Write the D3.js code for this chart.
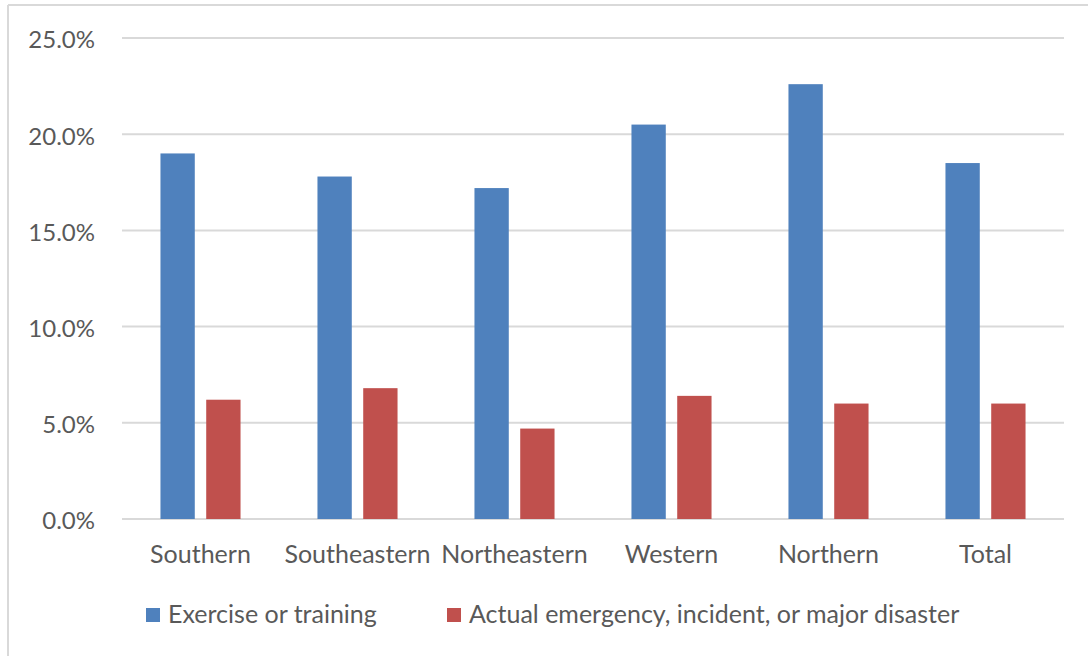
<!DOCTYPE html>
<html>
<head>
<meta charset="utf-8">
<script src="https://cdn.jsdelivr.net/npm/d3@7"></script>
<style>
  html, body { margin: 0; padding: 0; background: #fff; }
  svg { display: block; }
  text { font-family: Lato, "Open Sans", sans-serif; fill: #595959; }
</style>
</head>
<body>
<svg id="chart" width="1088" height="656"></svg>
<script>
// Regional share of respondents by activity type
const categories = ["Southern", "Southeastern", "Northeastern", "Western", "Northern", "Total"];
const seriesNames = ["Exercise or training", "Actual emergency, incident, or major disaster"];
const exerciseValues = [19.0, 17.8, 17.2, 20.5, 22.6, 18.5];
const emergencyValues = [6.2, 6.8, 4.7, 6.4, 6.0, 6.0];
const yTicks = [0, 5, 10, 15, 20, 25];
const seriesColors = ["#4F81BD", "#C0504D"];

const svg = d3.select("#chart");
const W = 1088, H = 656;
const plot = { left: 122, right: 1064, top: 38, bottom: 519 };

// Outer frame (top and left edges visible)
svg.append("line").attr("x1", 8).attr("x2", W).attr("y1", 5).attr("y2", 5)
  .attr("stroke", "#d9d9d9").attr("stroke-width", 2);
svg.append("line").attr("x1", 8).attr("x2", 8).attr("y1", 5).attr("y2", H)
  .attr("stroke", "#d9d9d9").attr("stroke-width", 2);

const x0 = d3.scaleBand().domain(categories).range([plot.left, plot.right])
  .paddingInner(0.49).paddingOuter(0.245);
const x1 = d3.scaleBand().domain(seriesNames).range([0, x0.bandwidth()])
  .paddingInner(0.25);
const y = d3.scaleLinear().domain([0, 25]).range([plot.bottom, plot.top]);

// Gridlines
svg.append("g").selectAll("line").data(yTicks).join("line")
  .attr("x1", plot.left).attr("x2", plot.right)
  .attr("y1", d => y(d)).attr("y2", d => y(d))
  .attr("stroke", "#d9d9d9").attr("stroke-width", 2);

// Y tick labels
svg.append("g").selectAll("text").data(yTicks).join("text")
  .attr("x", 95).attr("y", d => y(d) + 2).attr("dy", "0.35em")
  .attr("text-anchor", "end").attr("font-size", 24)
  .text(d => d.toFixed(1) + "%");

// Bars
const rows = categories.map((c, i) => ({ cat: c, vals: [exerciseValues[i], emergencyValues[i]] }));
const groups = svg.append("g").selectAll("g").data(rows).join("g")
  .attr("transform", d => `translate(${x0(d.cat)},0)`);
groups.selectAll("rect").data(d => d.vals.map((v, j) => ({ v, s: seriesNames[j], j })))
  .join("rect")
  .attr("x", d => x1(d.s))
  .attr("width", x1.bandwidth())
  .attr("y", d => y(d.v))
  .attr("height", d => y(0) - y(d.v))
  .attr("fill", d => seriesColors[d.j]);

// Category labels
svg.append("g").selectAll("text").data(categories).join("text")
  .attr("x", d => x0(d) + x0.bandwidth() / 2).attr("y", 563)
  .attr("text-anchor", "middle").attr("font-size", 25)
  .text(d => d);

// Legend
const legendX = [146, 447];
const legend = svg.append("g").selectAll("g").data(seriesNames).join("g")
  .attr("transform", (d, i) => `translate(${legendX[i]},608)`);
legend.append("rect").attr("width", 14).attr("height", 14)
  .attr("fill", (d, i) => seriesColors[i]);
legend.append("text").attr("x", 22).attr("y", 15)
  .attr("font-size", 25).text(d => d);
</script>
</body>
</html>
